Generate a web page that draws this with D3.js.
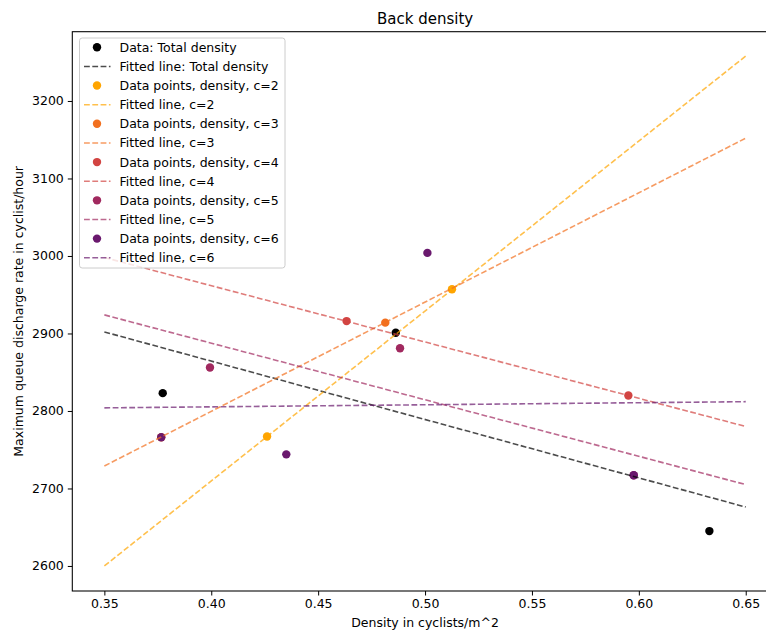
<!DOCTYPE html>
<html>
<head>
<meta charset="utf-8">
<script src="https://cdn.jsdelivr.net/npm/d3@7"></script>
<style>
  html, body { margin: 0; padding: 0; background: #fff; }
  svg { display: block; font-family: "DejaVu Sans", sans-serif; }
</style>
</head>
<body>
<svg id="chart" width="766" height="630"></svg>
<script>
// Series labels and colours
const seriesKeys = ["total", "c2", "c3", "c4", "c5", "c6"];
const pointLabels = ["Data: Total density", "Data points, density, c=2", "Data points, density, c=3",
                     "Data points, density, c=4", "Data points, density, c=5", "Data points, density, c=6"];
const lineLabels = ["Fitted line: Total density", "Fitted line, c=2", "Fitted line, c=3",
                    "Fitted line, c=4", "Fitted line, c=5", "Fitted line, c=6"];
const colors = ["#000000", "#ffa500", "#f2701f", "#d24442", "#a1295f", "#6a196e"];

// Measured points: [density, discharge rate]
const totalPts = [[0.3773, 2823], [0.4863, 2901], [0.633, 2645]];
const c2Pts = [[0.4261, 2767], [0.5126, 2957]];
const c3Pts = [[0.3766, 2766], [0.4814, 2914]];
const c4Pts = [[0.4633, 2916], [0.5951, 2820]];
const c5Pts = [[0.3994, 2856], [0.4883, 2881], [0.5976, 2717]];
const c6Pts = [[0.3766, 2766], [0.4351, 2744], [0.5011, 3004], [0.5976, 2717]];
const allPts = [totalPts, c2Pts, c3Pts, c4Pts, c5Pts, c6Pts];

// Fitted lines evaluated at the ends of the density range
const fitX = [0.35, 0.65];
const fitStart = [2902, 2600, 2729, 2998, 2924, 2804];
const fitEnd = [2676, 3258, 3152, 2780, 2705, 2812];

const xTicks = [0.35, 0.40, 0.45, 0.50, 0.55, 0.60, 0.65];
const yTicks = [2600, 2700, 2800, 2900, 3000, 3100, 3200];

const plotLeft = 72.3, plotRight = 777.8, plotTop = 31.7, plotBottom = 591;
const x = d3.scaleLinear().domain([0.335, 0.665]).range([plotLeft, plotRight]);
const y = d3.scaleLinear().domain([2567.7, 3289.4]).range([plotBottom, plotTop]);

const fs = "12.5px";
const svg = d3.select("#chart");

// Scatter points (drawn beneath the fitted lines)
allPts.forEach((pts, i) => {
  svg.append("g").selectAll("circle").data(pts).join("circle")
    .attr("cx", d => x(d[0])).attr("cy", d => y(d[1])).attr("r", 4.2)
    .attr("fill", colors[i]);
});

// Fitted lines
const line = d3.line().x(d => x(d[0])).y(d => y(d[1]));
seriesKeys.forEach((k, i) => {
  svg.append("path")
    .datum([[fitX[0], fitStart[i]], [fitX[1], fitEnd[i]]])
    .attr("d", line)
    .attr("fill", "none")
    .attr("stroke", colors[i])
    .attr("stroke-opacity", 0.7)
    .attr("stroke-width", 1.6)
    .attr("stroke-dasharray", "5.8,2.5");
});

// Axes
const xAxis = d3.axisBottom(x).tickValues(xTicks).tickFormat(d3.format(".2f")).tickSize(4.5).tickPadding(4);
const yAxis = d3.axisLeft(y).tickValues(yTicks).tickFormat(d3.format("d")).tickSize(4.5).tickPadding(4);

const gx = svg.append("g").attr("transform", `translate(0,${plotBottom})`).call(xAxis);
const gy = svg.append("g").attr("transform", `translate(${plotLeft},0)`).call(yAxis);
[gx, gy].forEach(g => {
  g.select(".domain").remove();
  g.selectAll("line").attr("stroke", "#000").attr("stroke-width", 1);
  g.selectAll("text").attr("font-size", fs).attr("fill", "#000")
    .attr("font-family", "DejaVu Sans, sans-serif");
});

// Frame
svg.append("rect").attr("x", plotLeft).attr("y", plotTop)
  .attr("width", plotRight - plotLeft).attr("height", plotBottom - plotTop)
  .attr("fill", "none").attr("stroke", "#000").attr("stroke-width", 1.07);

// Titles
svg.append("text").attr("x", (plotLeft + plotRight) / 2).attr("y", 23.5)
  .attr("text-anchor", "middle").attr("font-size", "15px").text("Back density");
svg.append("text").attr("x", (plotLeft + plotRight) / 2).attr("y", 627)
  .attr("text-anchor", "middle").attr("font-size", fs).text("Density in cyclists/m^2");
svg.append("text").attr("transform", `translate(23,${(plotTop + plotBottom) / 2}) rotate(-90)`)
  .attr("text-anchor", "middle").attr("font-size", fs)
  .text("Maximum queue discharge rate in cyclist/hour");

// Legend
const lg = svg.append("g");
lg.append("rect").attr("x", 79.5).attr("y", 38).attr("width", 205.5).attr("height", 230)
  .attr("rx", 2.7).attr("fill", "#fff").attr("fill-opacity", 0.8)
  .attr("stroke", "#cccccc").attr("stroke-width", 1);
const rowH = 19.13, row0 = 47.3;
seriesKeys.forEach((k, i) => {
  const yp = row0 + (2 * i) * rowH;
  const yl = row0 + (2 * i + 1) * rowH;
  lg.append("circle").attr("cx", 97).attr("cy", yp).attr("r", 4.2).attr("fill", colors[i]);
  lg.append("text").attr("x", 119.5).attr("y", yp + 4.5).attr("font-size", fs).text(pointLabels[i]);
  lg.append("line").attr("x1", 84).attr("x2", 110.5).attr("y1", yl).attr("y2", yl)
    .attr("stroke", colors[i]).attr("stroke-opacity", 0.7).attr("stroke-width", 1.6)
    .attr("stroke-dasharray", "5.8,2.5");
  lg.append("text").attr("x", 119.5).attr("y", yl + 4.5).attr("font-size", fs).text(lineLabels[i]);
});
</script>
</body>
</html>
